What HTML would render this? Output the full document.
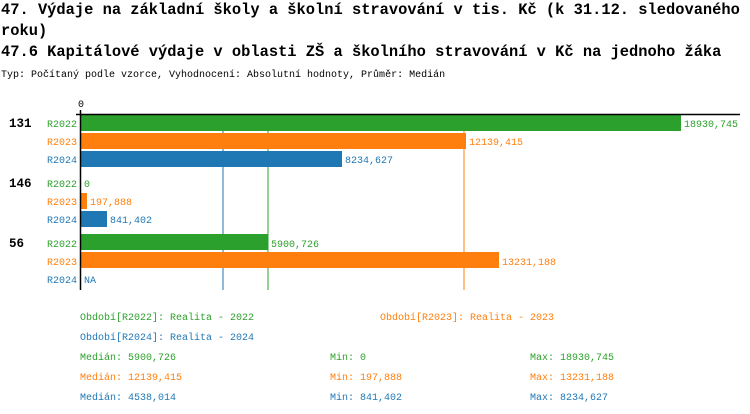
<!DOCTYPE html>
<html><head><meta charset="utf-8"><style>
body{margin:0;background:#fff}
svg{display:block}
text{font-family:"Liberation Mono","DejaVu Sans Mono",monospace}
.t{font-size:15.4px;font-weight:bold}
.s{font-size:10px}
</style></head><body>
<svg width="750" height="414" xmlns="http://www.w3.org/2000/svg">
<text class="t" x="1" y="14">47. Výdaje na základní školy a školní stravování v tis. Kč (k 31.12. sledovaného</text>
<text class="t" x="1" y="35">roku)</text>
<text class="t" x="1" y="56">47.6 Kapitálové výdaje v oblasti ZŠ a školního stravování v Kč na jednoho žáka</text>
<text x="1" y="77" style="font-size:10px">Typ: Počítaný podle vzorce, Vyhodnocení: Absolutní hodnoty, Průměr: Medián</text>
<text class="s" x="78" y="107">0</text>
<line x1="223" y1="114" x2="223" y2="290" stroke="#1f77b4"/>
<line x1="268" y1="114" x2="268" y2="290" stroke="#2ca02c"/>
<line x1="464" y1="114" x2="464" y2="290" stroke="#ff7f0e"/>
<rect x="81" y="115" width="600" height="16" fill="#2ca02c"/>
<rect x="81" y="133" width="385" height="16" fill="#ff7f0e"/>
<rect x="81" y="151" width="261" height="16" fill="#1f77b4"/>
<rect x="81" y="193" width="6" height="16" fill="#ff7f0e"/>
<rect x="81" y="211" width="26" height="16" fill="#1f77b4"/>
<rect x="81" y="234" width="187" height="16" fill="#2ca02c"/>
<rect x="81" y="252" width="418" height="16" fill="#ff7f0e"/>
<line x1="76" y1="114.5" x2="740" y2="114.5" stroke="#000" stroke-width="1.5"/>
<line x1="80.5" y1="110" x2="80.5" y2="290" stroke="#000" stroke-width="1.5"/>
<g style="font-size:12.5px;font-weight:bold">
<text x="9" y="127">131</text><text x="9" y="187">146</text><text x="9" y="247">56</text></g>
<g class="s" text-anchor="end">
<text x="77" y="127" fill="#2ca02c">R2022</text><text x="77" y="145" fill="#ff7f0e">R2023</text><text x="77" y="163" fill="#1f77b4">R2024</text>
<text x="77" y="187" fill="#2ca02c">R2022</text><text x="77" y="205" fill="#ff7f0e">R2023</text><text x="77" y="223" fill="#1f77b4">R2024</text>
<text x="77" y="247" fill="#2ca02c">R2022</text><text x="77" y="265" fill="#ff7f0e">R2023</text><text x="77" y="283" fill="#1f77b4">R2024</text>
</g>
<g class="s">
<text x="684" y="127" fill="#2ca02c">18930,745</text>
<text x="469" y="145" fill="#ff7f0e">12139,415</text>
<text x="345" y="163" fill="#1f77b4">8234,627</text>
<text x="84" y="187" fill="#2ca02c">0</text>
<text x="90" y="205" fill="#ff7f0e">197,888</text>
<text x="110" y="223" fill="#1f77b4">841,402</text>
<text x="271" y="247" fill="#2ca02c">5900,726</text>
<text x="502" y="265" fill="#ff7f0e">13231,188</text>
<text x="84" y="283" fill="#1f77b4">NA</text>
<text x="80" y="320" fill="#2ca02c">Období[R2022]: Realita - 2022</text>
<text x="380" y="320" fill="#ff7f0e">Období[R2023]: Realita - 2023</text>
<text x="80" y="340" fill="#1f77b4">Období[R2024]: Realita - 2024</text>
<text x="80" y="360" fill="#2ca02c">Medián: 5900,726</text>
<text x="330" y="360" fill="#2ca02c">Min: 0</text>
<text x="530" y="360" fill="#2ca02c">Max: 18930,745</text>
<text x="80" y="380" fill="#ff7f0e">Medián: 12139,415</text>
<text x="330" y="380" fill="#ff7f0e">Min: 197,888</text>
<text x="530" y="380" fill="#ff7f0e">Max: 13231,188</text>
<text x="80" y="400" fill="#1f77b4">Medián: 4538,014</text>
<text x="330" y="400" fill="#1f77b4">Min: 841,402</text>
<text x="530" y="400" fill="#1f77b4">Max: 8234,627</text>
</g>
</svg>
</body></html>
